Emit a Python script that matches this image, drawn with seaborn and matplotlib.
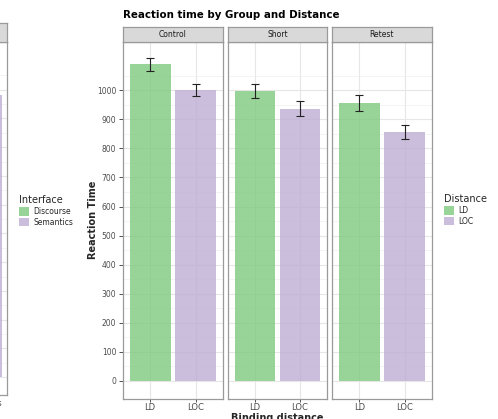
import numpy as np
import pandas as pd
import matplotlib
matplotlib.use("Agg")
import matplotlib.pyplot as plt
from matplotlib.patches import Patch
import seaborn as sns

# ---- data ----
groups = ["Control", "Short", "Retest"]
distances = ["LD", "LOC"]
rt_ld = [1089, 997, 956]
rt_loc = [1000, 937, 856]
se_ld = [23, 25, 26]
se_loc = [21, 26, 23]

# partially visible neighbouring panel (cropped at left edge)
interfaces = ["Discourse", "Semantics"]
rt_interface = [1040, 983]

yticks = [0, 100, 200, 300, 400, 500, 600, 700, 800, 900, 1000]

df = pd.DataFrame({
    "Group": np.repeat(groups, 2),
    "Distance": distances * 3,
    "RT": [v for pair in zip(rt_ld, rt_loc) for v in pair],
    "SE": [v for pair in zip(se_ld, se_loc) for v in pair],
})
df_if = pd.DataFrame({"Interface": interfaces, "RT": rt_interface})

sns.set_theme(style="white")
plt.rcParams["font.family"] = ["DejaVu Sans"]

W, H = 498, 419
fig = plt.figure(figsize=(W / 100, H / 100), dpi=100)


def rect(x0, y0, x1, y1):
    return [x0 / W, 1 - y1 / H, (x1 - x0) / W, (y1 - y0) / H]


GREEN = "#7FC97F"
PURPLE = "#BEAED4"
pal = {"LD": GREEN, "LOC": PURPLE}
pal_if = {"Discourse": GREEN, "Semantics": PURPLE}
BORDER = "#9a9a9a"
GRID = "#e6e6e6"
TXT = "#4D4D4D"
YLIM = (-62, 1166)


def style_panel(ax, show_y, xmax=1.6):
    ax.set_ylim(*YLIM)
    ax.set_xlim(-0.6, xmax)
    ax.set_yticks(yticks)
    ax.set_yticks([t + 50 for t in yticks], minor=True)
    ax.grid(True, which="major", color=GRID, lw=0.8)
    ax.grid(True, which="minor", axis="y", color="#f0f0f0", lw=0.5)
    ax.set_axisbelow(True)
    for s in ax.spines.values():
        s.set_color(BORDER)
        s.set_linewidth(0.9)
    ax.tick_params(axis="x", length=2.2, width=0.6, color="#333333",
                   labelsize=6, labelcolor=TXT, pad=0.5, bottom=True)
    ax.tick_params(axis="y", which="major", length=3 if show_y else 0,
                   width=0.6, color="#333333", labelsize=5.5,
                   labelcolor=TXT, pad=1.5, left=show_y, labelleft=show_y)
    ax.tick_params(axis="y", which="minor", length=0)
    ax.set_xlabel("")
    ax.set_ylabel("")


def strip(x0, x1, y0, y1, label):
    sax = fig.add_axes(rect(x0, y0, x1, y1))
    sax.set_facecolor("#D9D9D9")
    sax.set_xticks([])
    sax.set_yticks([])
    for s in sax.spines.values():
        s.set_color(BORDER)
        s.set_linewidth(0.9)
    sax.text(0.5, 0.5, label, ha="center", va="center", fontsize=5.5,
             color="#1A1A1A", transform=sax.transAxes)


# ---- main facets ----
panel_x = [(122.7, 223), (228, 327), (332, 432)]
for i, (g, (x0, x1)) in enumerate(zip(groups, panel_x)):
    ax = fig.add_axes(rect(x0, 42, x1, 399))
    sub = df[df["Group"] == g]
    sns.barplot(data=sub, x="Distance", y="RT", hue="Distance",
                order=distances, hue_order=distances, palette=pal,
                width=0.9, alpha=0.8, saturation=1, errorbar=None,
                linewidth=0, legend=False, ax=ax)
    ax.errorbar(np.arange(len(sub)), sub["RT"], yerr=sub["SE"], fmt="none",
                ecolor="#222222", elinewidth=0.8, capsize=3, capthick=0.8)
    style_panel(ax, show_y=(i == 0))
    strip(x0, x1, 27, 42, g)

# ---- cropped neighbouring panel ----
axl = fig.add_axes(rect(-100, 42, 7, 395))
sns.barplot(data=df_if, x="Interface", y="RT", hue="Interface",
            order=interfaces, hue_order=interfaces, palette=pal_if,
            width=0.9, alpha=0.8, saturation=1, errorbar=None,
            linewidth=0, legend=False, ax=axl)
style_panel(axl, show_y=False, xmax=1.54)
strip(-100, 7, 23, 42, "")

# ---- texts ----
fig.text(123 / W, 1 - 15 / H, "Reaction time by Group and Distance",
         ha="left", va="center", fontsize=7.4, fontweight="bold", color="black")
fig.text(93 / W, 1 - 220 / H, "Reaction Time", rotation=90, ha="center",
         va="center", fontsize=7, fontweight="bold")
fig.text(277 / W, 1 - 412.5 / H, "Binding distance", ha="center",
         va="top", fontsize=7, fontweight="bold")

# ---- legends ----
h_dist = [Patch(facecolor=pal[d], alpha=0.8, edgecolor="none") for d in distances]
leg = fig.legend(h_dist, distances, title="Distance", loc="upper left",
                 bbox_to_anchor=(444 / W, 1 - 194 / H), frameon=False,
                 fontsize=5.5, title_fontsize=7, handlelength=1.3,
                 handleheight=1.3, handletextpad=0.6, labelspacing=0.25,
                 borderaxespad=0, borderpad=0)
leg._legend_box.align = "left"

h_if = [Patch(facecolor=pal_if[d], alpha=0.8, edgecolor="none") for d in interfaces]
leg2 = fig.legend(h_if, interfaces, title="Interface", loc="upper left",
                  bbox_to_anchor=(19 / W, 1 - 195 / H), frameon=False,
                  fontsize=5.5, title_fontsize=7, handlelength=1.3,
                  handleheight=1.3, handletextpad=0.6, labelspacing=0.25,
                  borderaxespad=0, borderpad=0)
leg2._legend_box.align = "left"

fig.savefig("out.png", dpi=100)
